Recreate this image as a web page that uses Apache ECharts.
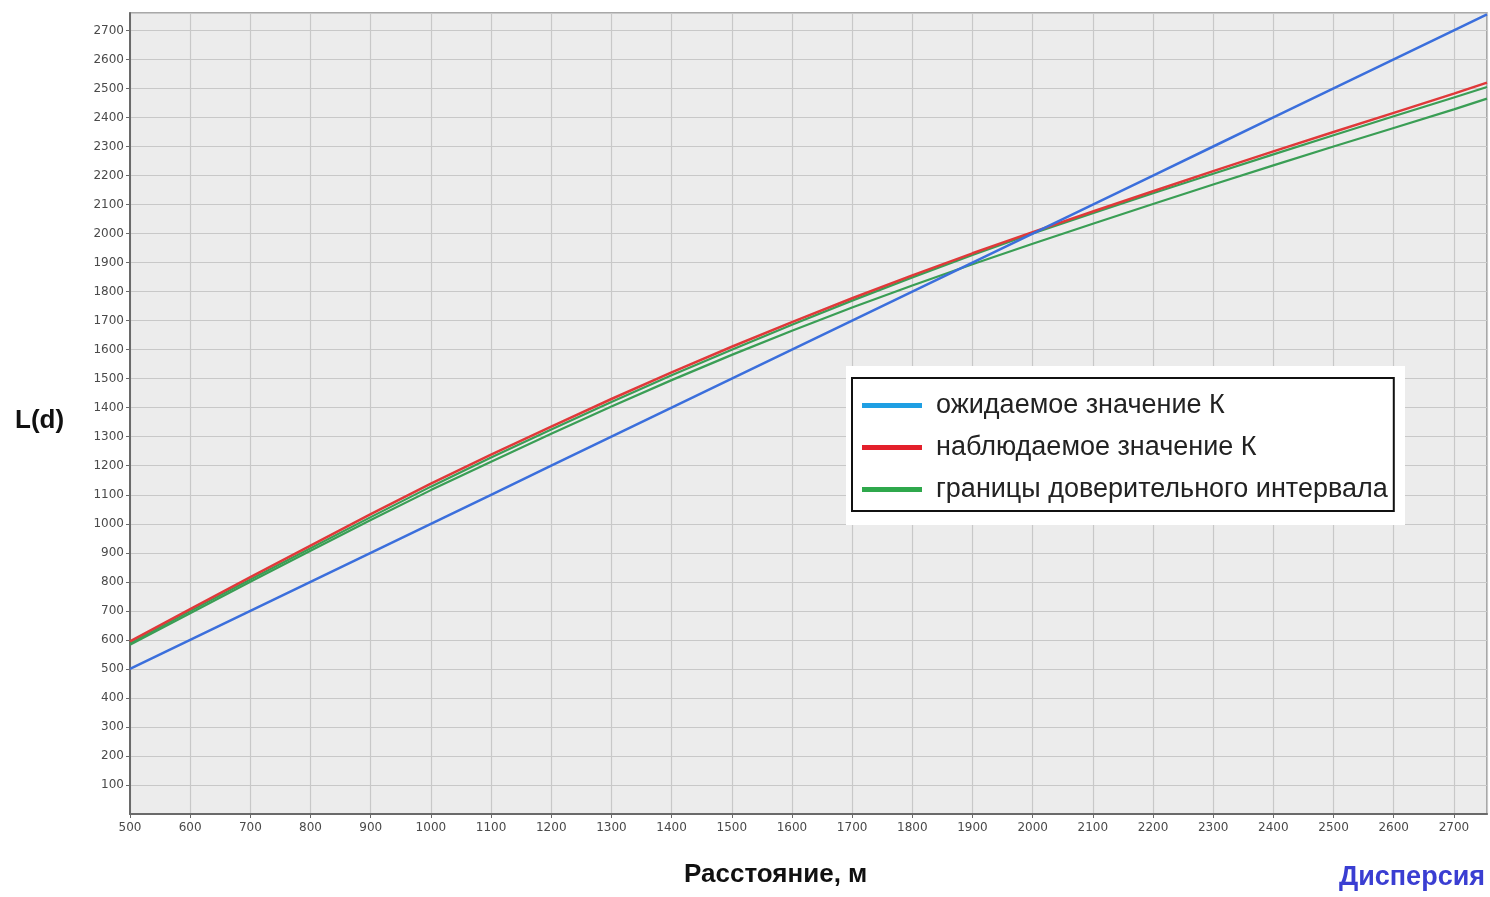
<!DOCTYPE html>
<html>
<head>
<meta charset="utf-8">
<script src="https://cdn.jsdelivr.net/npm/echarts@6/dist/echarts.min.js"></script>
<style>
  html, body { margin: 0; padding: 0; background: #fff; }
  #chart { width: 1490px; height: 897px; }
</style>
</head>
<body>
<div id="chart"></div>
<script>
// расстояние d, м
const distances = [500, 600, 700, 800, 900, 1000, 1100, 1200, 1300, 1400, 1500, 1600,
  1700, 1800, 1900, 2000, 2100, 2200, 2300, 2400, 2500, 2600, 2700, 2755]
// ожидаемое значение K (L(d) = d)
const expected = [500, 600, 700, 800, 900, 1000, 1100, 1200, 1300, 1400, 1500, 1600,
  1700, 1800, 1900, 2000, 2100, 2200, 2300, 2400, 2500, 2600, 2700, 2755]
// наблюдаемое значение K
const observed = [595, 706, 816, 925, 1033, 1138, 1238, 1335, 1430, 1522, 1610, 1695,
  1777, 1856, 1932, 2005, 2076, 2146, 2215, 2283, 2350, 2416, 2482, 2520]
// границы доверительного интервала
const upperBound = [588, 699, 808, 916, 1023, 1128, 1228, 1325, 1420, 1512, 1600, 1686,
  1769, 1849, 1926, 2000, 2070, 2139, 2206, 2273, 2339, 2404, 2469, 2505]
const lowerBound = [583, 692, 800, 907, 1013, 1116, 1214, 1310, 1404, 1495, 1582, 1665,
  1745, 1821, 1894, 1965, 2034, 2102, 2169, 2235, 2300, 2364, 2428, 2465]

const legendNames = ['ожидаемое значение К', 'наблюдаемое значение К', 'границы доверительного интервала']

const pairs = (ys) => distances.map((d, i) => [d, ys[i]])

const myChart = echarts.init(document.getElementById('chart'))

const option = {
  animation: false,
  grid: {
    left: 130, right: 3, top: 13, bottom: 83,
    show: true,
    backgroundColor: '#ececec',
    borderColor: '#8c8c8c',
    borderWidth: 1.5
  },
  xAxis: {
    type: 'value',
    min: 500,
    max: 2755,
    interval: 100,
    axisLine: { onZero: false, lineStyle: { color: '#6a6a6a', width: 2 } },
    axisTick: { show: true, length: 4, lineStyle: { color: '#6a6a6a' } },
    axisLabel: {
      showMaxLabel: false,
      margin: 8,
      formatter: (v) => String(v),
      fontFamily: 'DejaVu Sans', fontSize: 12, color: '#4a4a4a'
    },
    splitLine: { show: true, lineStyle: { color: '#c8c8c8', width: 1.2 } }
  },
  yAxis: {
    type: 'value',
    min: 0,
    max: 2760,
    interval: 100,
    axisLine: { show: true, onZero: false, lineStyle: { color: '#6a6a6a', width: 2 } },
    axisTick: { show: true, length: 4, lineStyle: { color: '#6a6a6a' } },
    axisLabel: {
      showMinLabel: false,
      showMaxLabel: false,
      margin: 6,
      formatter: (v) => String(v),
      fontFamily: 'DejaVu Sans', fontSize: 12, color: '#4a4a4a'
    },
    splitLine: { show: true, lineStyle: { color: '#c8c8c8', width: 1.2 } }
  },
  legend: {
    orient: 'vertical',
    left: 852,
    top: 378,
    padding: [14, 6, 8, 10],
    itemGap: 15,
    itemWidth: 60,
    itemHeight: 5,
    icon: 'rect',
    backgroundColor: '#fff',
    borderColor: '#111',
    borderWidth: 2,
    borderRadius: 0,
    z: 5,
    textStyle: {
      fontFamily: 'Liberation Sans', fontSize: 27, color: '#222',
      padding: [0, 0, 0, 9]
    },
    data: [
      { name: legendNames[0], itemStyle: { color: '#1f9fe3' } },
      { name: legendNames[1], itemStyle: { color: '#e3202b' } },
      { name: legendNames[2], itemStyle: { color: '#2fa84c' } }
    ]
  },
  graphic: [
    {
      type: 'rect',
      z: 3,
      shape: { x: 846, y: 366, width: 559, height: 159 },
      style: { fill: '#fff' }
    },
    {
      type: 'text',
      left: 15,
      top: 408,
      style: { text: 'L(d)', fill: '#111', font: 'bold 26px "Liberation Sans"' }
    },
    {
      type: 'text',
      left: 684,
      top: 862,
      style: { text: 'Расстояние, м', fill: '#111', font: 'bold 26px "Liberation Sans"' }
    },
    {
      type: 'text',
      right: 5,
      top: 864,
      style: { text: 'Дисперсия', fill: '#3a3ed2', font: 'bold 27px "Liberation Sans"' }
    }
  ],
  series: [
    {
      name: legendNames[2],
      type: 'line',
      data: pairs(lowerBound),
      showSymbol: false,
      lineStyle: { color: '#3a9e55', width: 2.2 }
    },
    {
      name: legendNames[2],
      type: 'line',
      data: pairs(upperBound),
      showSymbol: false,
      lineStyle: { color: '#3a9e55', width: 2.2 }
    },
    {
      name: legendNames[1],
      type: 'line',
      data: pairs(observed),
      showSymbol: false,
      lineStyle: { color: '#e0393a', width: 2.5 }
    },
    {
      name: legendNames[0],
      type: 'line',
      data: pairs(expected),
      showSymbol: false,
      lineStyle: { color: '#3b6fdc', width: 2.5 }
    }
  ]
}

myChart.setOption(option)
</script>
</body>
</html>
